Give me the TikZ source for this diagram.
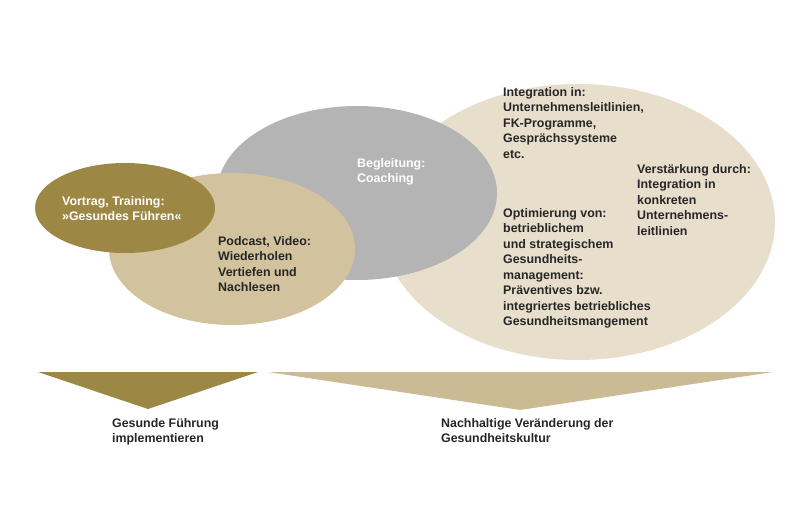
\documentclass[tikz,border=0pt]{standalone}
\usepackage{fontspec}
\setmainfont{Liberation Sans}
\definecolor{beige}{HTML}{E7DECC}
\definecolor{grayc}{HTML}{B4B4B4}
\definecolor{tan}{HTML}{D2C39E}
\definecolor{olive}{HTML}{9D8744}
\definecolor{tri}{HTML}{CBBB94}
\begin{document}
\begin{tikzpicture}[x=1pt,y=-1pt,
  txt/.style={anchor=north west,align=left,inner sep=0pt,font=\fontsize{12.4}{15.5}\selectfont\bfseries,text=black!85},
  wtxt/.style={txt,text=white}]
\useasboundingbox (0,0) rectangle (800,514);
\fill[beige] (578,222) ellipse [x radius=197,y radius=138];
\fill[grayc] (357,193) ellipse [x radius=140,y radius=87];
\fill[tan] (232,249) ellipse [x radius=123,y radius=76];
\fill[olive] (125,208) ellipse [x radius=90,y radius=45];
\fill[olive] (38,372) -- (258,372) -- (148,409) -- cycle;
\fill[tri] (268,372) -- (773,372) -- (520,410) -- cycle;
\node[wtxt] (a) at (62,196) {Vortrag, Training:\\»Gesundes Führen«};
\node[wtxt] (b) at (357,158) {Begleitung:\\Coaching};
\node[txt] (c) at (218,236) {Podcast, Video:\\Wiederholen\\Vertiefen und\\Nachlesen};
\node[txt] (d) at (503,87) {Integration in:\\Unternehmensleitlinien,\\FK-Programme,\\Gesprächssysteme\\etc.};
\node[txt] (e) at (637,164) {Verstärkung durch:\\Integration in\\konkreten\\Unternehmens-\\leitlinien};
\node[txt] (f) at (503,208) {Optimierung von:\\betrieblichem\\und strategischem\\Gesundheits-\\management:\\Präventives bzw.\\integriertes betriebliches\\Gesundheitsmangement};
\node[txt] (g) at (112,418) {Gesunde Führung\\implementieren};
\node[txt] (h) at (441,418) {Nachhaltige Veränderung der\\Gesundheitskultur};
\end{tikzpicture}
\end{document}
